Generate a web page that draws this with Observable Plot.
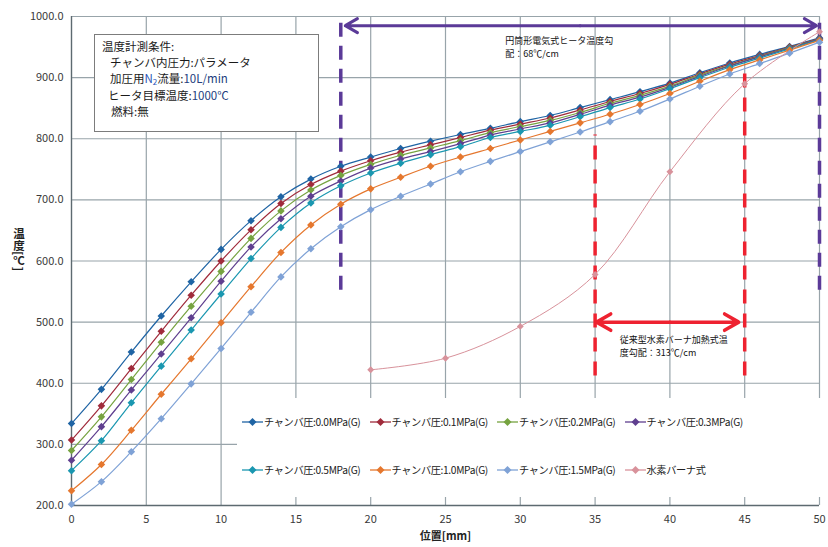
<!DOCTYPE html>
<html>
<head>
<meta charset="utf-8">
<script src="https://cdn.jsdelivr.net/npm/d3@7"></script>
<script src="https://cdn.jsdelivr.net/npm/@observablehq/plot@0.6"></script>
<style>
  body { margin: 0; background: #fff; font-family: "Noto Sans CJK JP", "Noto Sans", sans-serif; }
  #wrap { position: relative; width: 828px; height: 547px; overflow: hidden; background: #fff; }
  #wrap > svg { position: absolute; left: 0; top: 0; }
  .cond { position: absolute; left: 94px; top: 34px; width: 225px; height: 98px; border: 1px solid #7c7c7c;
          background: #fff; font-size: 11.5px; line-height: 16.2px; color: #1a1a1a; padding-top: 3px; box-sizing: border-box; }
  .cond div { white-space: nowrap; height: 16.2px; }
  .navy { color: #23407e; }
  .legend { position: absolute; left: 237px; top: 398px; width: 600px; height: 99px; background: #fff; }
  .item { position: absolute; display: flex; align-items: center; font-size: 10.2px; letter-spacing: -0.35px; color: #222; white-space: nowrap; }
  .item svg { display: block; margin-right: 1px; }
  .ylab { position: absolute; left: 11px; top: 228px; writing-mode: vertical-rl; font-size: 11.5px; font-weight: 700; color: #222; }
</style>
</head>
<body>
<div id="wrap"></div>
<script>
// ---- data ----
const positions = [0,2,4,6,8,10,12,14,16,18,20,22,24,26,28,30,32,34,36,38,40,42,44,46,48,50];
const p00 = [334,390,451,510,566,619,666,705,734,755,770,784,796,807,817,828,838,851,864,877,891,908,924,938,951,965];
const p01 = [307,363,424,485,544,600,651,694,725,747,764,778,790,802,814,824,834,847,861,874,889,906,922,936,950,964];
const p02 = [290,345,406,467,526,583,637,682,716,740,758,773,785,797,810,820,830,843,858,871,886,904,920,935,949,963];
const p03 = [274,329,389,448,507,567,623,669,706,731,752,767,779,792,806,816,826,840,855,868,884,902,919,934,948,963];
const p05 = [257,306,368,428,487,546,604,655,695,723,744,760,774,787,802,812,822,836,851,865,882,900,917,932,947,962];
const p10 = [224,267,323,382,440,499,558,614,659,693,718,737,755,770,784,798,812,826,840,856,874,894,913,929,945,961];
const p15 = [202,239,288,342,399,457,516,574,620,656,684,706,726,746,763,779,795,811,828,845,865,886,906,923,940,958];
const h2Positions = [20,25,30,35,40,45,50];
const h2Temps = [422,441,493,578,746,890,975];

const seriesNames = ["チャンバ圧:0.0MPa(G)","チャンバ圧:0.1MPa(G)","チャンバ圧:0.2MPa(G)","チャンバ圧:0.3MPa(G)",
                     "チャンバ圧:0.5MPa(G)","チャンバ圧:1.0MPa(G)","チャンバ圧:1.5MPa(G)","水素バーナ式"];
const seriesColors = ["#1f64a4","#a02b3b","#76a340","#5f3f8f","#1a97b0","#e5772e","#7fa2d6","#d8929b"];
const xTicks = [0,5,10,15,20,25,30,35,40,45,50];
const yTicks = [200,300,400,500,600,700,800,900,1000];

// annotation values (data space)
const elecRange = {from: 18, to: 50, top: 1000, bottom: 552, arrowY: 985};
const h2Range = {from: 35, to: 45, arrowY: 500, bottom: 412, tops: [806, 908]};
const elecNote = ["円筒形電気式ヒータ温度勾", "配：68℃/cm"];
const h2Note = ["従来型水素バーナ加熱式温", "度勾配：313℃/cm"];
const condLines = ["温度計測条件:", "チャンバ内圧力:パラメータ", "加圧用N₂流量:10L/min", "ヒータ目標温度:1000℃", "燃料:無"];

// ---- build table ----
const FONT = '"Noto Sans CJK JP", "Noto Sans", sans-serif';
const seriesValues = [p00,p01,p02,p03,p05,p10,p15];
const rows = [];
seriesValues.forEach((vals, i) => positions.forEach((x, j) => rows.push({series: seriesNames[i], x, y: vals[j]})));
const h2Rows = h2Positions.map((x, j) => ({series: seriesNames[7], x, y: h2Temps[j]}));

const purpleRules = [
  {x: elecRange.from, y1: elecRange.bottom, y2: elecRange.top},
  {x: elecRange.to, y1: elecRange.bottom, y2: elecRange.top}
];
const redRules = [
  {x: h2Range.from, y1: h2Range.bottom, y2: h2Range.tops[0]},
  {x: h2Range.to, y1: h2Range.bottom, y2: h2Range.tops[1]}
];
const elecMid = (elecRange.from + elecRange.to) / 2;
const purpleArrows = [
  {x1: elecMid, x2: elecRange.from + 0.3, y: elecRange.arrowY},
  {x1: elecMid, x2: elecRange.to - 0.2, y: elecRange.arrowY}
];
const h2Mid = (h2Range.from + h2Range.to) / 2;
const redArrows = [
  {x1: h2Mid, x2: h2Range.from + 0.1, y: h2Range.arrowY},
  {x1: h2Mid, x2: h2Range.to - 0.4, y: h2Range.arrowY}
];
const noteRows = [
  {x: 29.0, y: 960, text: elecNote[0]}, {x: 29.0, y: 938, text: elecNote[1]},
  {x: 36.65, y: 471, text: h2Note[0]}, {x: 36.65, y: 450, text: h2Note[1]}
];

const chart = Plot.plot({
  width: 828, height: 547,
  marginLeft: 71, marginRight: 9, marginTop: 16, marginBottom: 42,
  style: {fontFamily: FONT, fontSize: "11px", color: "#3a3a3a", background: "transparent", overflow: "visible"},
  x: {domain: [0, 50], ticks: xTicks, tickSize: 0, tickPadding: 10, label: null},
  y: {domain: [200, 1000], ticks: yTicks, tickFormat: d => d.toFixed(1), tickSize: 0, tickPadding: 8, label: null},
  color: {domain: seriesNames, range: seriesColors},
  marks: [
    Plot.ruleX(xTicks, {stroke: "#98a4aa", strokeWidth: 1.2}),
    Plot.ruleY(yTicks, {stroke: "#98a4aa", strokeWidth: 1.2}),
    Plot.ruleX([0], {stroke: "#5d6a70", strokeWidth: 1.3}),
    Plot.ruleY([200], {stroke: "#5d6a70", strokeWidth: 1.3}),
    // annotations
    Plot.ruleX(purpleRules, {x: "x", y1: "y1", y2: "y2", stroke: "#5b3a98", strokeWidth: 3.5, strokeDasharray: "14,9"}),
    Plot.ruleX(redRules, {x: "x", y1: "y1", y2: "y2", stroke: "#ee2230", strokeWidth: 3.5, strokeDasharray: "14,10"}),
    Plot.arrow(purpleArrows, {x1: "x1", x2: "x2", y1: "y", y2: "y", stroke: "#5b3a98", strokeWidth: 3, headLength: 7}),
    Plot.arrow(redArrows, {x1: "x1", x2: "x2", y1: "y", y2: "y", stroke: "#ee2230", strokeWidth: 3.5, headLength: 7}),
    Plot.text(noteRows, {x: "x", y: "y", text: "text", textAnchor: "start", fontSize: 9, fill: "#111"}),
    // data
    Plot.line(rows, {x: "x", y: "y", z: "series", stroke: "series", curve: "catmull-rom", strokeWidth: 1.2}),
    Plot.line(h2Rows, {x: "x", y: "y", stroke: "series", curve: "catmull-rom", strokeWidth: 1}),
    Plot.dot(rows, {x: "x", y: "y", fill: "series", symbol: d3.symbolDiamond2, r: 3.4}),
    Plot.dot(h2Rows, {x: "x", y: "y", fill: "series", symbol: d3.symbolDiamond2, r: 3.1}),
    Plot.text(["位置[mm]"], {frameAnchor: "bottom", dy: 34, fontSize: 11, fontWeight: "bold", fill: "#222"})
  ]
});

const wrap = document.getElementById("wrap");
wrap.appendChild(chart);

// condition box
const cond = document.createElement("div");
cond.className = "cond";
const indents = [7, 15, 15, 13, 16];
cond.innerHTML = condLines.map((t, i) => {
  let html = t
    .replace("N₂", '<span style="color:#2b55b8">N<sub style="font-size:8px;line-height:0;vertical-align:-2px">2</sub></span>')
    .replace("10L/min", '<span class="navy">10L/min</span>')
    .replace("1000℃", '<span class="navy">1000℃</span>');
  return `<div style="margin-left:${indents[i]}px">${html}</div>`;
}).join("");
wrap.appendChild(cond);

// legend
const legend = document.createElement("div");
legend.className = "legend";
seriesNames.forEach((name, i) => {
  const col = i % 4, row = Math.floor(i / 4);
  const item = document.createElement("div");
  item.className = "item";
  item.style.left = (5 + col * 127.5) + "px";
  item.style.top = (row === 0 ? 16 : 64) + "px";
  const c = seriesColors[i];
  item.innerHTML = `<svg width="21" height="14"><line x1="0" y1="7" x2="21" y2="7" stroke="${c}" stroke-width="1.3"/>` +
    `<path d="M10.5,3 L14.5,7 L10.5,11 L6.5,7 Z" fill="${c}"/></svg><span>${name}</span>`;
  legend.appendChild(item);
});
wrap.appendChild(legend);

// y label (vertical writing)
const ylab = document.createElement("div");
ylab.className = "ylab";
ylab.textContent = "温度[℃]";
wrap.appendChild(ylab);
</script>
</body>
</html>
